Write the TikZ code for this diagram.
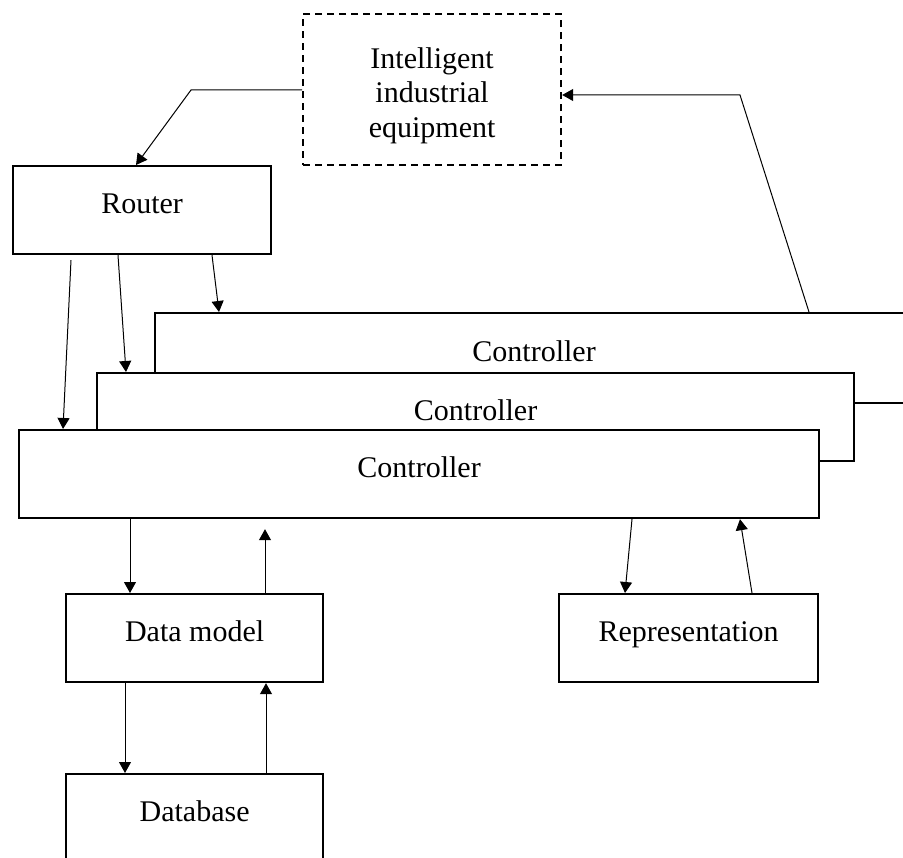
\documentclass[tikz,border=0pt]{standalone}
\usepackage{fontspec}
\setmainfont{Liberation Serif}
\usetikzlibrary{arrows.meta}

\tikzset{
  box/.style={draw, line width=2.2pt, fill=white, anchor=north west,
    inner xsep=0pt, inner ysep=27pt, text height=20pt, text depth=14pt,
    minimum height=0pt},
  dashbox/.style={draw, line width=2.2pt, dash pattern=on 7pt off 5pt,
    anchor=north west, inner sep=0pt, align=center,
    minimum width=258pt, minimum height=151pt},
  conn/.style={line width=1pt, -{Triangle[length=11pt,width=12pt]}},
  lbl/.style={font=\fontsize{30pt}{34.5pt}\selectfont}
}

\begin{document}
\begin{tikzpicture}[x=1pt, y=-1pt, every node/.style={lbl}]
\clip (0,0) rectangle (903,858);

% equipment and router
\node[dashbox] (ie) at (302,13) {\rule{0pt}{32.5pt}Intelligent\\industrial\\equipment};
\node[box, minimum width=258pt] (r) at (12,165) {Router};

% stacked controllers, back to front
\node[box, minimum width=758pt, minimum height=90pt] (c1) at (154,312) {Controller};
\node[box, minimum width=757pt] (c2) at (96,372) {Controller};
\node[box, minimum width=800pt] (c3) at (18,429) {Controller};

% lower blocks
\node[box, minimum width=257pt] (dm) at (65,593) {Data model};
\node[box, minimum width=259pt] (rep) at (558,593) {Representation};
\node[box, minimum width=257pt] (db) at (65,773) {Database};

% equipment -> router
\coordinate (k0) at (191,90);
\draw[conn] (ie.west |- k0) -- (k0) -- ([xshift=124pt]r.north west);

% controller -> equipment
\coordinate (k1) at (740,95);
\draw[conn] ([xshift=655pt]c1.north west) -- (k1) -- (ie.east |- k1);

% router -> controllers
\draw[conn] ([xshift=59pt,yshift=-5pt]r.south west) -- ([xshift=45pt]c3.north west);
\draw[conn] ([xshift=106pt]r.south west) -- ([xshift=30pt]c2.north west);
\draw[conn] ([xshift=200pt]r.south west) -- ([xshift=65pt]c1.north west);

% controller <-> data model
\draw[conn] ([xshift=112pt]c3.south west) -- ([xshift=65pt]dm.north west);
\draw[conn] ([xshift=200pt]dm.north west) -- ([xshift=247pt,yshift=-10pt]c3.south west);

% controller <-> representation
\draw[conn] ([xshift=614pt]c3.south west) -- ([xshift=67pt]rep.north west);
\draw[conn] ([xshift=194pt]rep.north west) -- ([xshift=722pt]c3.south west);

% data model <-> database
\draw[conn] ([xshift=60pt]dm.south west) -- ([xshift=60pt]db.north west);
\draw[conn] ([xshift=201pt]db.north west) -- ([xshift=201pt]dm.south west);
\end{tikzpicture}
\end{document}
